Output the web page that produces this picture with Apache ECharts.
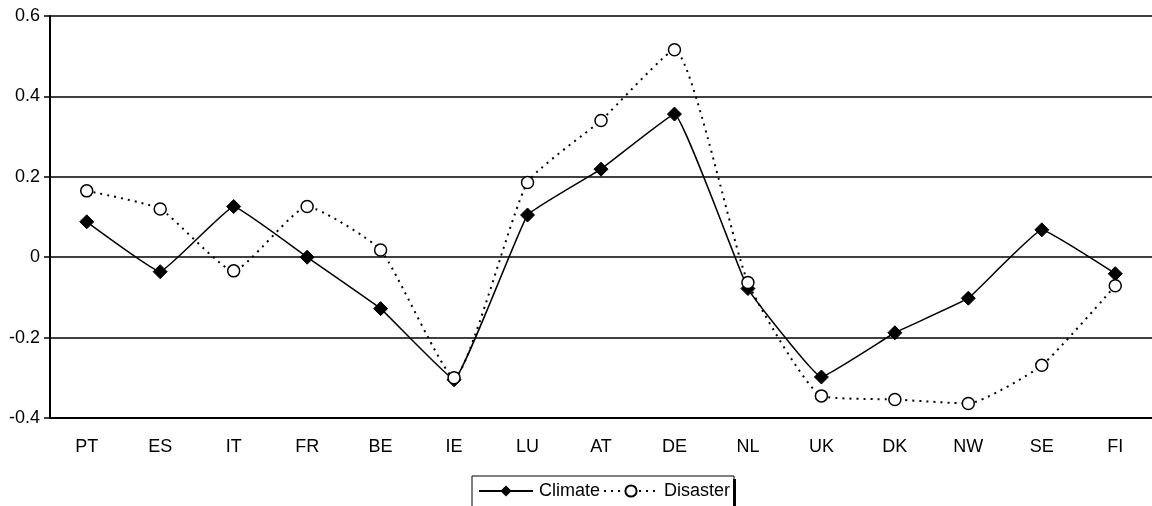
<!DOCTYPE html>
<html>
<head>
<meta charset="utf-8">
<script src="https://cdn.jsdelivr.net/npm/echarts@6/dist/echarts.min.js"></script>
<style>
html,body{margin:0;padding:0;background:#fff;}
#main{width:1152px;height:506px;}
</style>
</head>
<body>
<div id="main"></div>
<script>
const categories = ['PT','ES','IT','FR','BE','IE','LU','AT','DE','NL','UK','DK','NW','SE','FI'];
const climate  = [0.088,-0.036,0.126,0.000,-0.128,-0.305,0.105,0.219,0.356,-0.078,-0.298,-0.188,-0.102,0.068,-0.041];
const disaster = [0.165,0.120,-0.034,0.126,0.018,-0.300,0.186,0.340,0.516,-0.063,-0.345,-0.354,-0.364,-0.269,-0.071];
const yTicks = {min:-0.4, max:0.6, interval:0.2};

const font = 'Liberation Sans, Arial, sans-serif';
const chart = echarts.init(document.getElementById('main'), null, {renderer:'canvas'});
chart.setOption({
  backgroundColor:'#fff',
  animation:false,
  grid:{left:50, top:16, width:1106, height:402, containLabel:false},
  graphic:[{type:'rect', left:733, top:479, shape:{width:3, height:30}, style:{fill:'#000'}, z:10}],
  legend:{
    data:['Climate','Disaster'],
    left:472, top:476,
    itemWidth:54, itemHeight:14, itemGap:3,
    padding:[6,4,14,6],
    borderColor:'#000', borderWidth:1,
    backgroundColor:'#fff',
    textStyle:{fontFamily:font, fontSize:18, color:'#000', padding:[0,0,0,1]}
  },
  xAxis:{
    type:'category', data:categories, boundaryGap:true,
    axisLine:{show:true, onZero:false, lineStyle:{color:'#000', width:2}},
    axisTick:{show:false},
    axisLabel:{fontFamily:font, fontSize:18, color:'#000', margin:20}
  },
  yAxis:{
    type:'value', min:yTicks.min, max:yTicks.max, interval:yTicks.interval,
    axisLine:{show:true, lineStyle:{color:'#000', width:2}},
    axisTick:{show:true, length:6, lineStyle:{color:'#000', width:1.5}},
    axisLabel:{fontFamily:font, fontSize:18, color:'#000', margin:10},
    splitLine:{show:true, lineStyle:{color:'#000', width:1.6}}
  },
  series:[
    {
      name:'Climate', type:'line', data:climate, smooth:0.08,
      symbol:'diamond', symbolSize:14,
      itemStyle:{color:'#000', borderColor:'#000'},
      lineStyle:{color:'#000', width:1.5, type:'solid'},
      z:3
    },
    {
      name:'Disaster', type:'line', data:disaster, smooth:0.16,
      symbol:'circle', symbolSize:12,
      itemStyle:{color:'#fff', borderColor:'#000', borderWidth:1.5},
      lineStyle:{color:'#000', width:2, type:[2,5]},
      z:4
    }
  ]
});
</script>
</body>
</html>
